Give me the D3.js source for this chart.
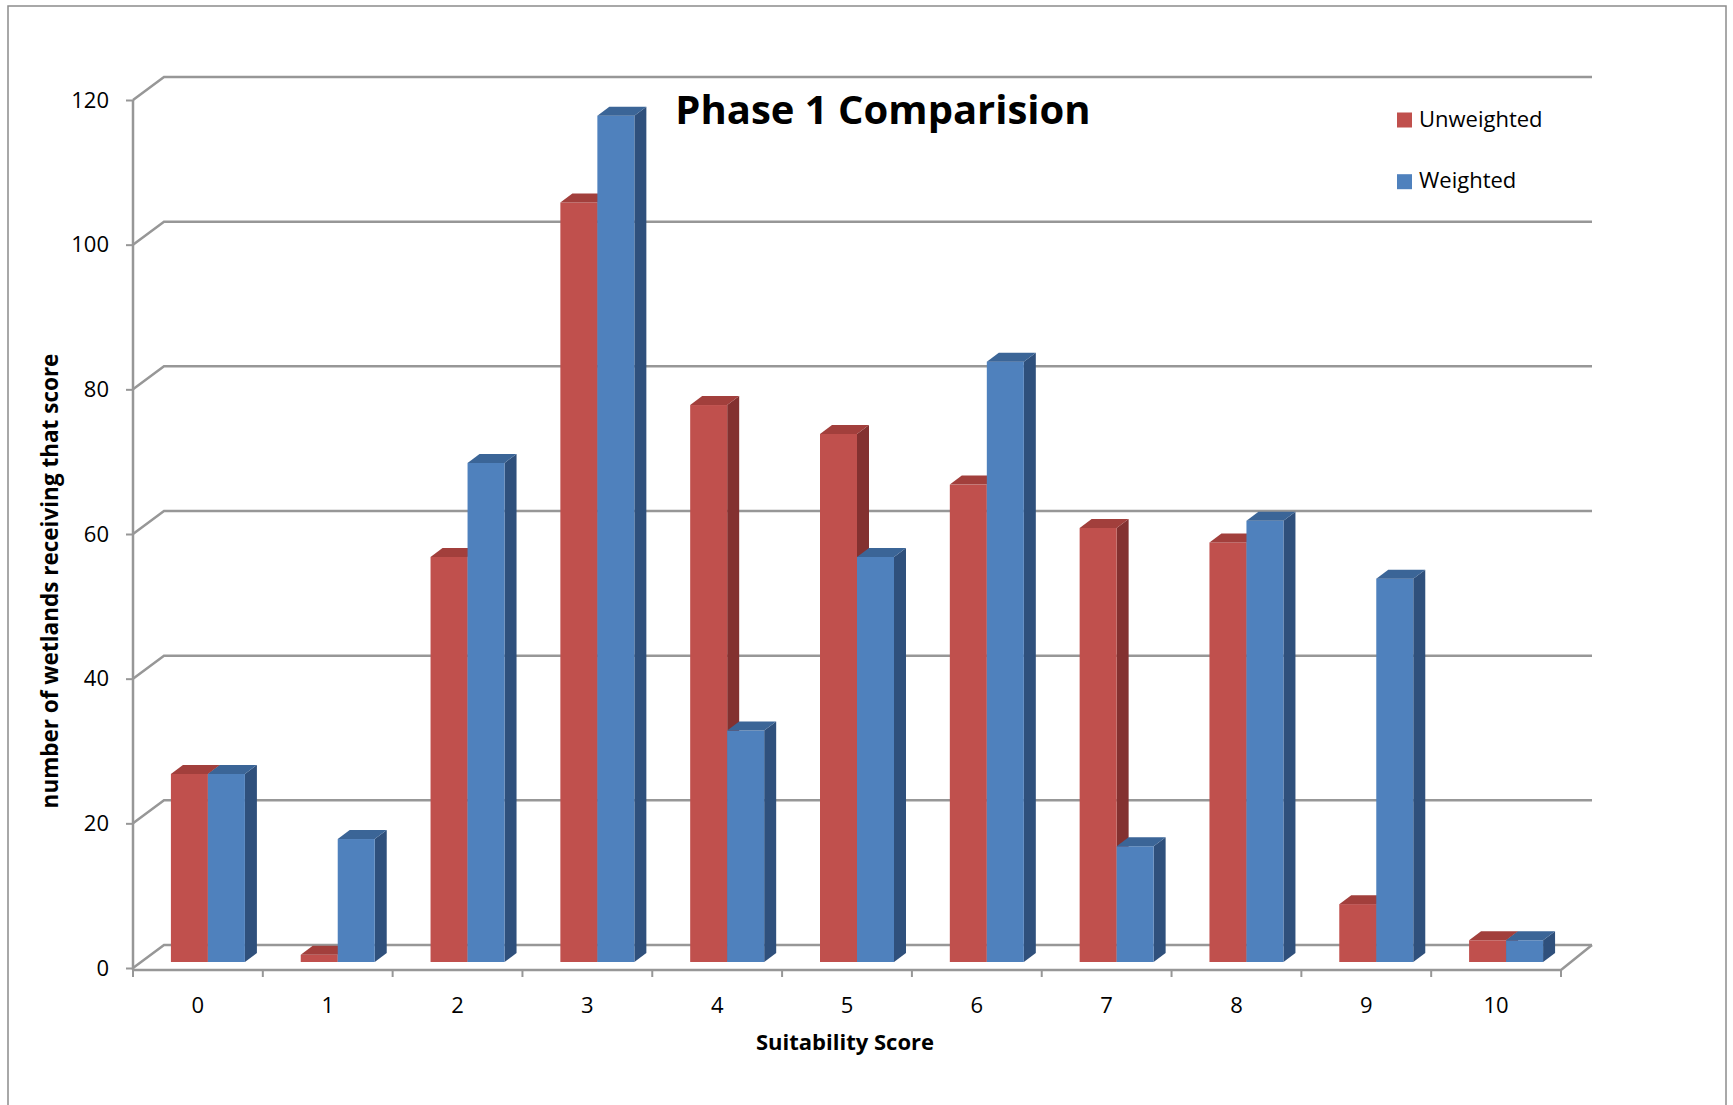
<!DOCTYPE html>
<html>
<head>
<meta charset="utf-8">
<script src="https://cdn.jsdelivr.net/npm/d3@7"></script>
<style>
  html, body { margin: 0; padding: 0; background: #fff; }
  svg { display: block; font-family: "Open Sans", Lato, sans-serif; }
</style>
</head>
<body>
<svg id="chart" width="1733" height="1105"></svg>
<script>
// Suitability scores on the x axis
const categories = ["0", "1", "2", "3", "4", "5", "6", "7", "8", "9", "10"];
const seriesNames = ["Unweighted", "Weighted"];
// Number of wetlands receiving each score
const unweighted = [26, 1, 56, 105, 77, 73, 66, 60, 58, 8, 3];
const weighted   = [26, 17, 69, 117, 32, 56, 83, 16, 61, 53, 3];
const yTicks = [0, 20, 40, 60, 80, 100, 120];

const palette = {
  Unweighted: { front: "#C0504D", top: "#A23F3C", side: "#833130" },
  Weighted:   { front: "#4F81BD", top: "#3B6597", side: "#2F507C" }
};

const fontFamily = "'Open Sans', Lato, sans-serif";
const svg = d3.select("#chart");

// Plot geometry: front plane of the 3-D box and the oblique depth offset
const left = 133, right = 1561, baseY = 968, topY = 100;
const depth = { dx: 31, dy: -23 };          // front axis -> back wall
const barShift = { dx: 10, dy: -6 };        // front axis -> bar front faces
const barDepth = { dx: 12, dy: -9 };        // thickness of each column

const x = d3.scaleBand().domain(categories).range([left, right]).padding(0);
const bw = x.bandwidth();
const xs = d3.scaleBand().domain(seriesNames)
  .range([0.215 * bw, 0.785 * bw]).padding(0);
const y = d3.scaleLinear().domain([0, 120]).range([baseY, topY]);

const gridColor = "#979797";

// Outer chart frame
svg.append("rect")
  .attr("x", 8).attr("y", 6).attr("width", 1718).attr("height", 1110)
  .attr("fill", "none").attr("stroke", "#8c8c8c").attr("stroke-width", 1.5);

// Back-wall gridlines with their slanted side-wall segments
const grid = svg.append("g").attr("fill", "none")
  .attr("stroke", gridColor).attr("stroke-width", 2.5);
grid.selectAll("path.grid").data(yTicks).join("path")
  .attr("class", "grid")
  .attr("d", v => {
    const y0 = y(v);
    return `M${left},${y0}L${left + depth.dx},${y0 + depth.dy}L${right + depth.dx},${y0 + depth.dy}`;
  });

// Floor: front edge and right slant
const floorY = baseY + 2;
grid.append("path")
  .attr("d", `M${left},${floorY}L${right},${floorY}L${right + depth.dx},${y(0) + depth.dy}`);

// Y axis
const yAxis = d3.axisLeft(y).tickValues(yTicks).tickSize(7).tickPadding(17);
const yg = svg.append("g").attr("transform", `translate(${left},0)`).call(yAxis);
yg.select(".domain").attr("stroke", gridColor).attr("stroke-width", 2.5)
  .attr("d", `M0,${topY}V${floorY}`);
yg.selectAll(".tick line").attr("stroke", gridColor).attr("stroke-width", 2);
yg.selectAll(".tick text")
  .attr("fill", "#000").attr("font-size", 22)
  .attr("font-family", fontFamily);

// X axis: ticks on category boundaries, labels centred in each category
const xAxis = d3.axisBottom(x).tickSize(0).tickPadding(0);
const xg = svg.append("g").attr("transform", `translate(0,${floorY})`).call(xAxis);
xg.select(".domain").remove();
xg.selectAll(".tick text")
  .attr("fill", "#000").attr("font-size", 22)
  .attr("font-family", fontFamily)
  .attr("dy", null).attr("y", 43);
svg.append("g").selectAll("line").data(d3.range(categories.length + 1)).join("line")
  .attr("x1", i => left + i * bw).attr("x2", i => left + i * bw)
  .attr("y1", floorY).attr("y2", floorY + 7)
  .attr("stroke", gridColor).attr("stroke-width", 2);

// 3-D columns: side face, front face, top face
const rows = [];
categories.forEach((c, i) => {
  rows.push({ cat: c, series: "Unweighted", value: unweighted[i] });
  rows.push({ cat: c, series: "Weighted", value: weighted[i] });
});

const bars = svg.append("g").selectAll("g.bar").data(rows).join("g").attr("class", "bar");
bars.each(function (d) {
  const g = d3.select(this);
  const x0 = x(d.cat) + xs(d.series) + barShift.dx;
  const w = xs.bandwidth();
  const yb = y(0) + barShift.dy;
  const yt = y(d.value) + barShift.dy;
  const col = palette[d.series];
  g.append("path")
    .attr("d", `M${x0 + w},${yb}L${x0 + w + barDepth.dx},${yb + barDepth.dy}L${x0 + w + barDepth.dx},${yt + barDepth.dy}L${x0 + w},${yt}Z`)
    .attr("fill", col.side);
  g.append("rect")
    .attr("x", x0).attr("y", yt).attr("width", w).attr("height", yb - yt)
    .attr("fill", col.front);
  g.append("path")
    .attr("d", `M${x0},${yt}L${x0 + barDepth.dx},${yt + barDepth.dy}L${x0 + w + barDepth.dx},${yt + barDepth.dy}L${x0 + w},${yt}Z`)
    .attr("fill", col.top);
});

// Title
svg.append("text")
  .attr("x", 883).attr("y", 124).attr("text-anchor", "middle")
  .attr("font-size", 40).attr("font-weight", "bold").attr("fill", "#000")
  .text("Phase 1 Comparision");

// Axis titles
svg.append("text")
  .attr("x", 845).attr("y", 1050).attr("text-anchor", "middle")
  .attr("font-size", 22).attr("font-weight", "bold").attr("fill", "#000")
  .text("Suitability Score");

svg.append("text")
  .attr("transform", "translate(58,581) rotate(-90)")
  .attr("text-anchor", "middle")
  .attr("font-size", 22.5).attr("font-weight", "bold").attr("fill", "#000")
  .text("number of wetlands receiving that score");

// Legend
const legend = svg.append("g").selectAll("g").data(seriesNames).join("g")
  .attr("transform", (d, i) => `translate(1397,${112.5 + i * 61.7})`);
legend.append("rect").attr("width", 15).attr("height", 15)
  .attr("fill", d => palette[d].front);
legend.append("text").attr("x", 22).attr("y", 14)
  .attr("font-size", 22).attr("fill", "#000").text(d => d);
</script>
</body>
</html>
